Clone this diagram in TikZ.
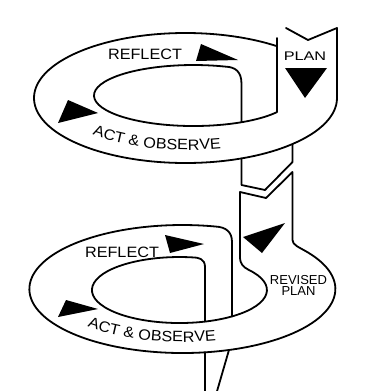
\documentclass[tikz,border=0pt]{standalone}
\usepackage{fontspec}
\setmainfont{Liberation Sans}[FakeStretch=1.08]
\newfontfamily\planfont{Liberation Sans}[FakeStretch=1.3]
\newfontfamily\revfont{Liberation Sans}
\usetikzlibrary{decorations.text}
\begin{document}
\begin{tikzpicture}[x=1pt,y=1pt,line width=1.8pt,line join=round,line cap=round,
  edge/.style={draw=black},
  tri/.style={fill=black},
  lab/.style={inner sep=0pt,font=\fontsize{15}{15}\selectfont},
  planlab/.style={inner sep=0pt,font=\planfont\fontsize{12.5}{12.5}\selectfont},
  revlab/.style={inner sep=0pt,align=center,font=\revfont\fontsize{13}{11}\selectfont},
  curvetext/.style={decorate,decoration={text along path,text align=center,
     text={|\fontsize{15}{15}\selectfont|ACT {\&} OBSERVE}}}]
\path[use as bounding box,fill=white] (0,0) rectangle (374,-391);

% ---------- upper spiral ----------
\draw[edge] (286,-28) -- (308,-40) -- (337,-28) -- (337,-98)
  arc[start angle=0,end angle=-307.15,x radius=151.5,y radius=65];
\draw[edge] (277,-38) -- (277,-112.1)
  arc[start angle=-32.94,end angle=-288.5,x radius=99.5,y radius=30.5]
  .. controls (236,-67) and (241.5,-72) .. (241.5,-84) -- (241.5,-122.2);
\draw[edge] (241.5,-158.4) -- (241.5,-185) -- (265,-190) -- (292.5,-162) -- (292.5,-144);

% ---------- lower spiral ----------
\draw[edge] (240,-258) -- (240,-192) -- (266,-198) -- (292.5,-172) -- (292.5,-240)
  .. controls (292.5,-245) and (298.9,-247.1) .. (307.7,-252.3)
  arc[start angle=35,end angle=-282.5,x radius=153,y radius=64]
  .. controls (226,-227) and (232,-232) .. (232,-242) -- (232,-316.4);
\draw[edge] (240,-258) .. controls (240,-263) and (243,-267.1) .. (248.4,-269.7)
  arc[start angle=38,end angle=-278.2,x radius=87.5,y radius=33]
  .. controls (199,-257.3) and (205,-259) .. (205,-267) -- (205,-321.6);
\draw[edge] (205,-352.3) -- (205,-393);
\draw[edge] (229,-349.9) -- (216.5,-393);

% ---------- arrowheads ----------
\fill[tri] (196,-61) -- (201,-44) -- (238,-60) -- cycle;
\fill[tri] (285,-68) -- (327,-68) -- (305,-98) -- cycle;
\fill[tri] (58,-123) -- (68,-100) -- (98,-113) -- cycle;
\fill[tri] (170,-253) -- (165,-235) -- (204,-244) -- cycle;
\fill[tri] (243,-237) -- (285,-223) -- (262,-253) -- cycle;
\fill[tri] (58,-317) -- (66,-300) -- (98,-309) -- cycle;

% ---------- labels ----------
\node[lab] (reflectA) at (145,-54) {REFLECT};
\node[planlab] (planA) at (305,-56) {PLAN};
\node[lab] (reflectB) at (122,-252) {REFLECT};
\node[revlab] (revplan) at (298.5,-285) {REVISED\\PLAN};
\path[curvetext] (85.5,-132.1) arc[start angle=222,end angle=287,x radius=138,y radius=54];
\path[curvetext] (80.5,-324.1) arc[start angle=222,end angle=287,x radius=138,y radius=54];
\end{tikzpicture}
\end{document}
